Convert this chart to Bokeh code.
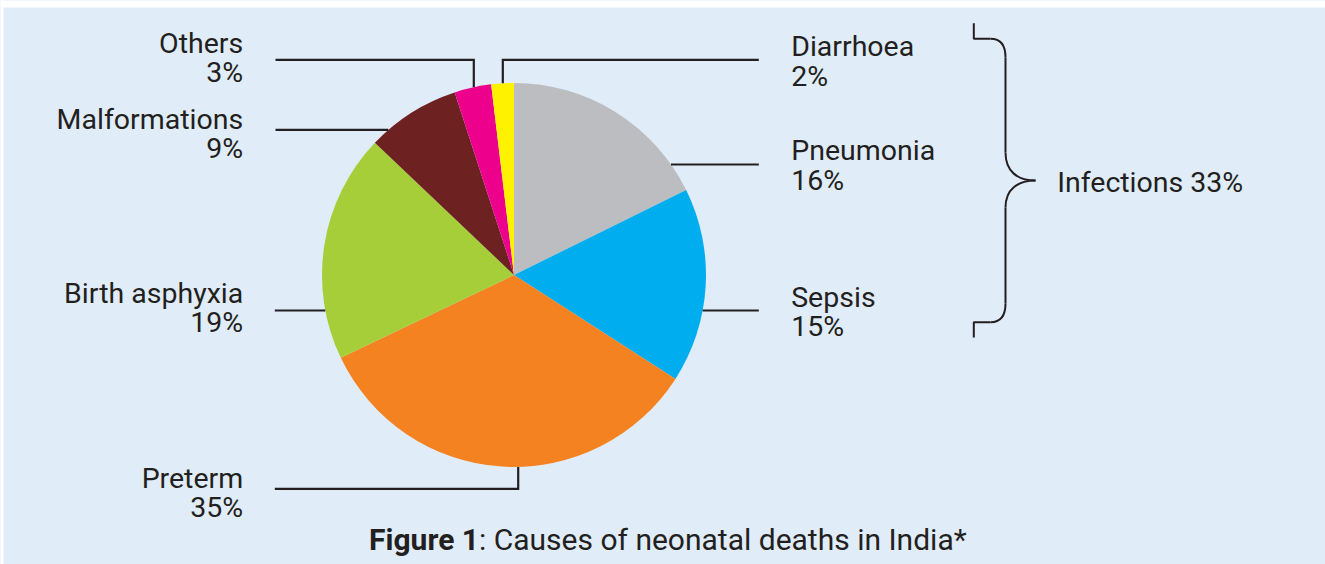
import numpy as np
from bokeh.plotting import figure
from bokeh.models import Range1d, ColumnDataSource
from bokeh.core.properties import value
from bokeh.embed import file_html
from bokeh.resources import INLINE

# ---- data (clockwise from 12 o'clock) ----
causes = ["Pneumonia", "Sepsis", "Preterm", "Birth asphyxia", "Malformations", "Others", "Diarrhoea"]
drawn_share = [17.7, 16.4, 33.8, 19.2, 7.9, 3.1, 1.9]          # wedge sizes
label_pct = ["16%", "15%", "35%", "19%", "9%", "3%", "2%"]       # percentages printed on the labels
colors = ["#bcbdc0", "#00aeef", "#f58220", "#a6ce39", "#6d2120", "#ec008c", "#fff200"]
group_label = "Infections 33%"
caption_bold = "Figure 1"
caption_rest = ": Causes of neonatal deaths in India*"

W, H = 1325, 564
BG = "#e0ecf8"
INK = "#231f20"
FONT = value("Roboto")
FS = "28.5px"
TOFF = -9.0   # text baseline correction

def Y(py):  # page pixel y -> data y
    return H - py

def TY(py):
    return H - (py + TOFF)

p = figure(width=W, height=H, output_backend="svg", toolbar_location=None,
           x_range=Range1d(0, W), y_range=Range1d(0, H),
           min_border=0, background_fill_color=BG, border_fill_color=BG,
           outline_line_color=None)
p.axis.visible = False
p.grid.visible = False

# white page edge (top and left) as in the reference
p.quad(left=[0, 0], right=[W, 3], bottom=[Y(7), 0], top=[H, H],
       fill_color="white", line_color=None)

# ---- pie ----
cx, cy_page, R = 513.5, 274.5, 192.0
cy = Y(cy_page)
vals = np.array(drawn_share, dtype=float)
frac = vals / vals.sum()
cum = np.concatenate([[0], np.cumsum(frac)])
end_ang = np.deg2rad(90 - cum[:-1] * 360)
start_ang = np.deg2rad(90 - cum[1:] * 360)
src = ColumnDataSource(dict(start=start_ang, end=end_ang, color=colors))
p.wedge(x=cx, y=cy, radius=R, start_angle="start", end_angle="end",
        direction="anticlock", fill_color="color", line_color=None, source=src)

def edge_x(py, side):
    dy = py - cy_page
    return cx + side * np.sqrt(R * R - dy * dy)

def edge_y_top(px):
    dx = px - cx
    return cy_page - np.sqrt(R * R - dx * dx)

def edge_y_bot(px):
    dx = px - cx
    return cy_page + np.sqrt(R * R - dx * dx)

LW = 2.2
xs, ys = [], []
xo = 473.3
xs.append([275, xo, xo]); ys.append([Y(59.3), Y(59.3), Y(edge_y_top(xo))])
xd = 502.3
xs.append([758.3, xd, xd]); ys.append([Y(59.3), Y(59.3), Y(edge_y_top(xd))])
xs.append([275, edge_x(129.3, -1)]); ys.append([Y(129.3), Y(129.3)])
xs.append([edge_x(164, 1), 758.3]); ys.append([Y(164), Y(164)])
xs.append([274.3, edge_x(310, -1)]); ys.append([Y(310), Y(310)])
xs.append([edge_x(310, 1), 758.3]); ys.append([Y(310), Y(310)])
xp = 517.7
xs.append([274.3, xp, xp]); ys.append([Y(488.3), Y(488.3), Y(edge_y_bot(xp))])
p.multi_line(xs=xs, ys=ys, line_color=INK, line_width=LW, line_join="miter")

# ---- labels ----
left_idx = [5, 4, 3, 2]        # Others, Malformations, Birth asphyxia, Preterm
left_base = [51.7, 127.7, 301.7, 486.7]
right_idx = [6, 0, 1]          # Diarrhoea, Pneumonia, Sepsis
right_base = [55.0, 159.3, 305.7]
LS = 29.5

lx, ly, lt = [], [], []
for i, b in zip(left_idx, left_base):
    lx += [242.7, 242.7]; ly += [TY(b), TY(b + LS)]; lt += [causes[i], label_pct[i]]
p.text(x=lx, y=ly, text=lt, text_align="right", text_baseline="alphabetic",
       text_font=FONT, text_font_size=FS, text_color=INK)

rx, ry, rt = [], [], []
for i, b in zip(right_idx, right_base):
    rx += [790.7, 790.7]; ry += [TY(b), TY(b + LS)]; rt += [causes[i], label_pct[i]]
p.text(x=rx, y=ry, text=rt, text_align="left", text_baseline="alphabetic",
       text_font=FONT, text_font_size=FS, text_color=INK)

# ---- brace ----
BW = 2.0
bx = [[973.3, 973.3, 990], [1005, 1005], [1005, 1005], [990, 973.3, 973.3]]
by = [[Y(22.7), Y(38.3), Y(38.3)], [Y(57), Y(152)], [Y(207), Y(303)],
      [Y(321.7), Y(321.7), Y(337)]]
p.multi_line(xs=bx, ys=by, line_color=INK, line_width=BW)
p.bezier(x0=[990, 1005, 1035, 1005], y0=[Y(38.3), Y(152), Y(180), Y(303)],
         x1=[1005, 1035, 1005, 990], y1=[Y(57), Y(180), Y(207), Y(321.7)],
         cx0=[1001, 1005, 1017, 1005], cy0=[Y(38.3), Y(171), Y(180), Y(315)],
         cx1=[1005, 1017, 1005, 1001], cy1=[Y(46), Y(180), Y(189), Y(321.7)],
         line_color=INK, line_width=BW)
p.text(x=[1056.7], y=[TY(190.7)], text=[group_label], text_align="left",
       text_baseline="alphabetic", text_font=FONT, text_font_size=FS, text_color=INK)

# ---- caption ----
split = 478.5
CFS = "30px"
p.text(x=[split], y=[TY(548.3)], text=[caption_bold], text_align="right",
       text_baseline="alphabetic", text_font=FONT, text_font_size=CFS,
       text_font_style="bold", text_color=INK)
p.text(x=[split], y=[TY(548.3)], text=[caption_rest], text_align="left",
       text_baseline="alphabetic", text_font=FONT, text_font_size=CFS, text_color=INK)

open("out.html", "w").write(file_html(p, INLINE))
